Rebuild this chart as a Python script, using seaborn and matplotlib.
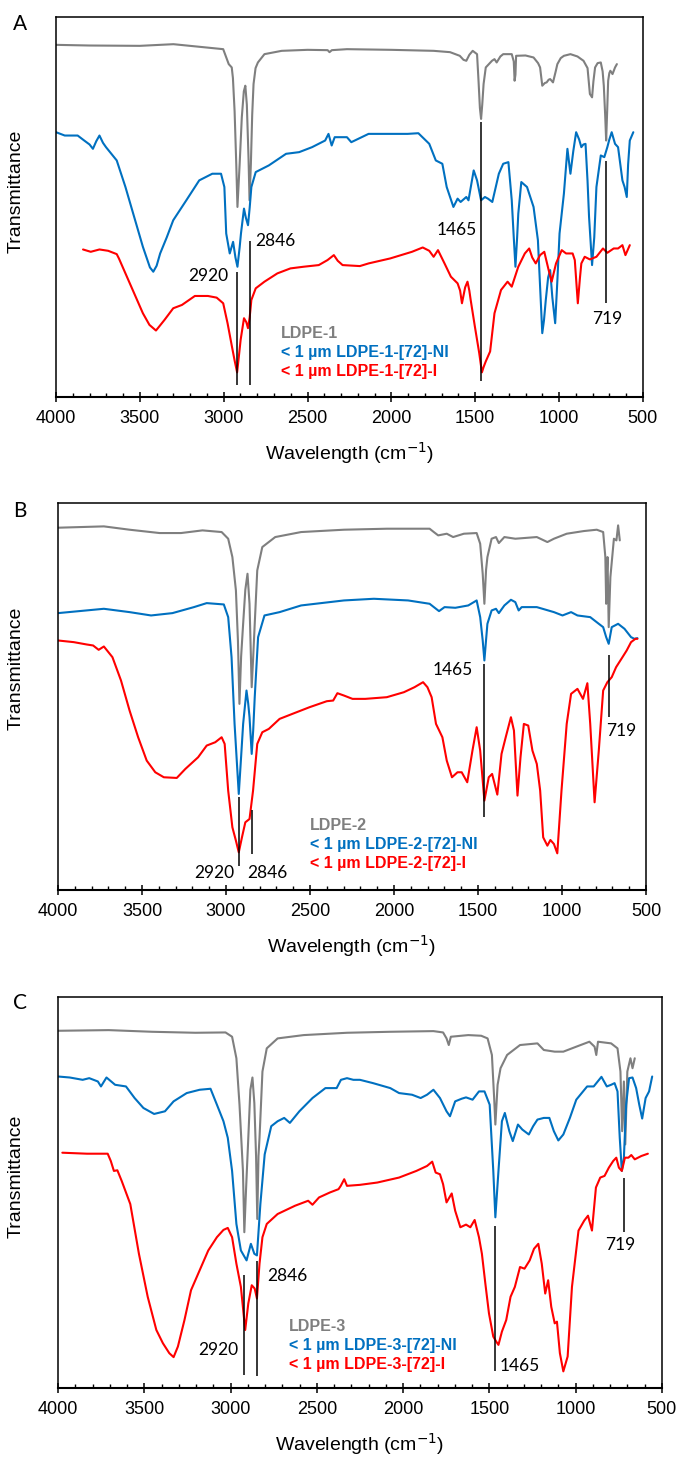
import pandas as pd
import matplotlib
matplotlib.use('Agg')
import matplotlib.pyplot as plt
from matplotlib.ticker import MultipleLocator
import seaborn as sns

# ---- spectra: (wavenumber, relative transmittance) ----
a_grey = [(4000, 1060), (3800, 1058), (3500, 1057), (3300, 1062), (3003, 1047), (2970, 1002), (2952, 992),
          (2945, 960), (2935, 860), (2925, 700), (2918, 572), (2905, 700), (2892, 842), (2880, 920), (2871, 937),
          (2862, 880), (2852, 720), (2846, 592), (2838, 700), (2830, 850), (2822, 942), (2810, 990), (2796, 1007),
          (2757, 1032), (2654, 1042), (2500, 1045), (2380, 1044), (2369, 1038), (2355, 1044), (2265, 1047),
          (2000, 1045), (1748, 1042), (1650, 1038), (1592, 1027), (1570, 1015), (1553, 1012), (1535, 1030),
          (1515, 1042), (1489, 1032), (1480, 950), (1472, 870), (1465, 837), (1458, 880), (1450, 942), (1437, 992),
          (1400, 1012), (1385, 1017), (1372, 1007), (1350, 1025), (1333, 1032), (1282, 1032), (1270, 1010),
          (1265, 952), (1260, 970), (1256, 1027), (1200, 1028), (1152, 1022), (1125, 1005), (1113, 992),
          (1100, 937), (1085, 945), (1074, 947), (1062, 955), (1053, 957), (1036, 947), (1020, 980), (1010, 1002),
          (990, 1020), (971, 1027), (932, 1032), (890, 1025), (854, 1012), (830, 990), (816, 912), (803, 902),
          (795, 950), (785, 992), (770, 1005), (751, 1007), (740, 980), (733, 937), (725, 850), (719, 772),
          (713, 860), (707, 952), (700, 975), (694, 982), (681, 972), (666, 992), (655, 1002)]
a_blue = [(4000, 797), (3948, 787), (3871, 787), (3832, 772), (3800, 760), (3780, 747), (3760, 770), (3741, 787),
          (3720, 765), (3702, 752), (3638, 712), (3586, 632), (3534, 542), (3482, 452), (3440, 390), (3420, 377),
          (3400, 395), (3379, 432), (3340, 480), (3301, 532), (3223, 592), (3146, 652), (3068, 672), (3016, 672),
          (2996, 632), (2985, 492), (2964, 432), (2944, 467), (2930, 420), (2918, 392), (2905, 450), (2897, 492),
          (2879, 567), (2868, 540), (2855, 517), (2845, 570), (2835, 632), (2809, 677), (2731, 697), (2628, 732),
          (2550, 737), (2473, 752), (2395, 772), (2375, 792), (2356, 757), (2338, 782), (2265, 782), (2239, 767),
          (2136, 792), (2007, 792), (1903, 792), (1839, 794), (1774, 762), (1735, 712), (1696, 702), (1670, 632),
          (1630, 572), (1605, 597), (1587, 587), (1553, 602), (1540, 592), (1509, 682), (1489, 652), (1465, 592),
          (1442, 602), (1424, 597), (1398, 587), (1359, 672), (1333, 702), (1302, 707), (1282, 592), (1270, 480),
          (1260, 392), (1250, 480), (1243, 552), (1225, 647), (1191, 632), (1152, 572), (1126, 472), (1110, 300),
          (1100, 192), (1090, 230), (1079, 292), (1065, 360), (1053, 382), (1040, 300), (1023, 222), (1010, 350),
          (997, 492), (971, 612), (950, 747), (932, 672), (915, 740), (898, 797), (880, 775), (867, 752),
          (855, 760), (842, 762), (830, 650), (821, 542), (803, 397), (790, 480), (777, 632), (751, 727),
          (730, 722), (712, 752), (700, 775), (686, 797), (666, 762), (648, 752), (622, 652), (609, 632),
          (596, 602), (588, 700), (578, 772), (557, 797)]
a_red = [(3839, 444), (3793, 437), (3741, 444), (3689, 440), (3638, 430), (3625, 417), (3586, 372), (3534, 312),
         (3482, 252), (3443, 217), (3404, 200), (3380, 215), (3353, 232), (3301, 267), (3249, 277), (3172, 304),
         (3094, 304), (3042, 299), (3003, 282), (2977, 222), (2951, 152), (2935, 110), (2920, 74), (2910, 120),
         (2899, 172), (2879, 237), (2865, 225), (2855, 207), (2845, 240), (2835, 292), (2809, 327), (2757, 347),
         (2680, 372), (2602, 387), (2524, 392), (2433, 397), (2381, 412), (2343, 427), (2320, 410), (2291, 397),
         (2188, 394), (2136, 402), (2007, 417), (1877, 437), (1813, 450), (1774, 440), (1748, 422), (1722, 442),
         (1683, 402), (1645, 362), (1605, 342), (1590, 320), (1579, 282), (1560, 330), (1546, 347), (1535, 320),
         (1527, 292), (1502, 212), (1476, 132), (1460, 74), (1450, 90), (1437, 107), (1411, 137), (1385, 252),
         (1346, 322), (1307, 347), (1282, 332), (1243, 392), (1204, 432), (1178, 447), (1160, 420), (1139, 402),
         (1113, 427), (1088, 437), (1062, 382), (1044, 347), (1018, 402), (984, 442), (958, 432), (919, 432),
         (906, 412), (888, 282), (875, 360), (867, 402), (847, 422), (816, 414), (777, 422), (738, 447),
         (712, 434), (674, 447), (648, 447), (622, 457), (604, 427), (578, 457)]

b_grey = [(4000, 1086), (3727, 1090), (3574, 1080), (3395, 1070), (3268, 1070), (3140, 1078), (3026, 1073),
          (2987, 1053), (2962, 998), (2941, 898), (2929, 748), (2920, 558), (2910, 700), (2898, 798), (2885, 900),
          (2872, 948), (2860, 858), (2847, 608), (2838, 700), (2829, 798), (2814, 958), (2784, 1028), (2707, 1058),
          (2553, 1073), (2298, 1080), (2043, 1083), (1788, 1083), (1763, 1073), (1737, 1063), (1686, 1068),
          (1648, 1058), (1584, 1068), (1508, 1070), (1487, 1038), (1472, 948), (1462, 858), (1452, 960),
          (1444, 998), (1419, 1053), (1393, 1058), (1376, 1040), (1343, 1058), (1278, 1053), (1150, 1058),
          (1087, 1043), (1048, 1053), (972, 1068), (870, 1076), (793, 1080), (755, 1073), (742, 998), (737, 858),
          (732, 960), (729, 998), (722, 788), (712, 938), (691, 1053), (676, 1048), (666, 1093), (656, 1048)]
b_blue = [(4000, 830), (3727, 843), (3574, 833), (3446, 823), (3319, 830), (3191, 848), (3115, 860), (3013, 856),
          (2987, 818), (2967, 698), (2949, 498), (2935, 380), (2924, 288), (2910, 400), (2898, 498), (2878, 598),
          (2868, 560), (2860, 518), (2847, 408), (2838, 480), (2829, 578), (2809, 758), (2771, 823), (2681, 833),
          (2553, 853), (2298, 868), (2120, 873), (1916, 868), (1788, 858), (1750, 843), (1732, 836), (1699, 848),
          (1635, 846), (1558, 853), (1508, 868), (1487, 818), (1472, 748), (1462, 688), (1452, 750), (1444, 798),
          (1419, 838), (1393, 843), (1376, 830), (1343, 853), (1304, 870), (1278, 863), (1258, 838), (1240, 848),
          (1150, 848), (1048, 833), (997, 823), (946, 833), (908, 823), (832, 818), (781, 798), (755, 788),
          (737, 758), (722, 738), (704, 788), (666, 798), (628, 783), (589, 758), (569, 753), (551, 755)]
b_red = [(4000, 748), (3906, 743), (3829, 736), (3791, 733), (3758, 720), (3727, 730), (3676, 698), (3625, 628),
         (3574, 538), (3523, 458), (3472, 388), (3421, 353), (3370, 338), (3293, 336), (3242, 363), (3166, 398),
         (3115, 433), (3064, 443), (3026, 458), (3008, 438), (2987, 298), (2962, 188), (2941, 148), (2924, 113),
         (2905, 158), (2885, 203), (2860, 213), (2839, 298), (2814, 438), (2784, 473), (2745, 483), (2681, 513),
         (2605, 528), (2503, 548), (2400, 566), (2362, 568), (2337, 590), (2298, 583), (2247, 573), (2171, 573),
         (2043, 578), (1941, 593), (1878, 608), (1827, 623), (1801, 608), (1776, 578), (1750, 498), (1712, 458),
         (1686, 388), (1655, 338), (1622, 353), (1597, 353), (1564, 323), (1533, 418), (1508, 488), (1487, 418),
         (1462, 268), (1436, 338), (1416, 348), (1385, 286), (1360, 408), (1335, 458), (1304, 518), (1286, 478),
         (1265, 283), (1247, 398), (1227, 498), (1201, 493), (1176, 418), (1150, 378), (1130, 298), (1112, 158),
         (1087, 133), (1069, 150), (1048, 138), (1028, 110), (1003, 298), (972, 498), (946, 588), (908, 603),
         (875, 573), (849, 620), (832, 498), (806, 263), (781, 418), (755, 598), (730, 623), (704, 638),
         (678, 668), (640, 698), (615, 718), (589, 743), (563, 753), (551, 753)]

c_grey = [(4000, 1078), (3706, 1080), (3455, 1075), (3204, 1072), (3029, 1073), (2991, 1060), (2966, 995),
          (2948, 855), (2928, 655), (2920, 470), (2910, 600), (2897, 755), (2885, 900), (2873, 937), (2862, 860),
          (2852, 700), (2845, 510), (2838, 700), (2832, 755), (2815, 955), (2790, 1025), (2727, 1055), (2576, 1065),
          (2325, 1072), (2074, 1075), (1824, 1077), (1768, 1073), (1748, 1055), (1735, 1035), (1723, 1060),
          (1622, 1065), (1547, 1063), (1510, 1055), (1485, 1005), (1472, 875), (1465, 795), (1452, 915),
          (1435, 965), (1397, 1005), (1372, 1015), (1322, 1035), (1221, 1040), (1184, 1020), (1121, 1015),
          (1071, 1015), (996, 1030), (920, 1045), (890, 1030), (880, 1005), (870, 1045), (794, 1040), (757, 1025),
          (740, 955), (730, 775), (720, 925), (712, 735), (700, 955), (682, 995), (670, 965), (657, 995)]
c_blue = [(4000, 940), (3932, 937), (3857, 930), (3819, 935), (3769, 925), (3751, 910), (3719, 937), (3669, 915),
          (3606, 910), (3556, 875), (3505, 845), (3443, 827), (3380, 835), (3330, 865), (3254, 890), (3179, 900),
          (3116, 903), (3079, 855), (3041, 805), (3016, 755), (2991, 655), (2966, 495), (2940, 415), (2907, 385),
          (2882, 435), (2862, 405), (2847, 400), (2827, 555), (2802, 705), (2764, 790), (2727, 805), (2689, 815),
          (2656, 800), (2601, 835), (2525, 875), (2450, 905), (2385, 905), (2360, 930), (2325, 935), (2288, 930),
          (2250, 930), (2174, 920), (2074, 905), (2023, 890), (1948, 885), (1898, 875), (1861, 885), (1824, 900),
          (1786, 875), (1748, 835), (1728, 820), (1698, 865), (1660, 873), (1635, 877), (1597, 870), (1560, 895),
          (1528, 895), (1498, 855), (1477, 655), (1465, 515), (1447, 655), (1427, 805), (1410, 830), (1384, 775),
          (1364, 745), (1334, 795), (1309, 780), (1271, 765), (1246, 790), (1221, 810), (1184, 815), (1152, 815),
          (1126, 775), (1100, 747), (1071, 765), (1033, 815), (996, 870), (933, 910), (895, 910), (850, 939),
          (819, 910), (794, 915), (774, 920), (757, 895), (744, 755), (732, 655), (720, 695), (707, 855),
          (690, 935), (670, 937), (649, 905), (631, 855), (614, 813), (594, 875), (574, 895), (556, 940)]
c_red = [(3975, 710), (3832, 707), (3712, 707), (3694, 685), (3676, 655), (3656, 657), (3631, 625), (3581, 555),
         (3531, 405), (3480, 275), (3430, 175), (3392, 135), (3355, 105), (3330, 93), (3305, 125), (3267, 205),
         (3229, 295), (3179, 355), (3129, 415), (3079, 455), (3041, 477), (3016, 483), (2991, 455), (2966, 375),
         (2940, 305), (2915, 175), (2897, 255), (2877, 310), (2860, 300), (2847, 270), (2832, 375), (2815, 455),
         (2790, 495), (2727, 525), (2626, 550), (2550, 565), (2525, 553), (2487, 575), (2424, 590), (2374, 600),
         (2361, 610), (2341, 630), (2325, 610), (2250, 613), (2149, 620), (2023, 635), (1923, 655), (1861, 670),
         (1831, 683), (1811, 650), (1786, 645), (1768, 615), (1748, 560), (1718, 587), (1698, 535), (1668, 485),
         (1635, 493), (1610, 485), (1585, 507), (1560, 455), (1543, 405), (1523, 315), (1502, 225), (1477, 155),
         (1460, 140), (1447, 130), (1427, 170), (1402, 205), (1377, 275), (1352, 305), (1322, 365), (1296, 360),
         (1266, 385), (1241, 420), (1216, 435), (1196, 375), (1176, 285), (1159, 325), (1141, 245), (1121, 195),
         (1108, 200), (1091, 105), (1071, 50), (1046, 95), (1021, 305), (983, 475), (950, 505), (928, 520),
         (905, 475), (882, 605), (857, 635), (832, 640), (807, 665), (782, 685), (764, 695), (749, 665),
         (732, 655), (714, 695), (694, 695), (677, 703), (657, 690), (619, 700), (581, 707)]

# peak markers: (wavenumber, line top, line bottom, label x, label y)
peak_labels = ['2920', '2846', '1465', '719']
a_peaks = [(2920, 377, 37, 3094, 364), (2846, 470, 37, 2693, 470), (1465, 827, 47, 1611, 502), (719, 710, 282, 712, 234)]
b_peaks = [(2920, 280, 73, 3069, 50), (2846, 240, 108, 2753, 50), (1465, 678, 220, 1648, 661), (719, 705, 518, 645, 478)]
c_peaks = [(2920, 340, 40, 3071, 115), (2846, 382, 37, 2672, 337), (1465, 490, 50, 1321, 67), (719, 635, 470, 739, 430)]

panels = [
    dict(letter='A', grey=a_grey, blue=a_blue, red=a_red, peaks=a_peaks, n=1, ymax=1144,
         rect=[0.0824, 0.7283, 0.863, 0.2601], leg=(0.383, 0.187), ylab=(-0.053, 0.542), ly=0.9836),
    dict(letter='B', grey=b_grey, blue=b_blue, red=b_red, peaks=b_peaks, n=2, ymax=1160,
         rect=[0.0853, 0.3908, 0.8647, 0.2649], leg=(0.429, 0.185), ylab=(-0.056, 0.574), ly=0.6502),
    dict(letter='C', grey=c_grey, blue=c_blue, red=c_red, peaks=c_peaks, n=3, ymax=1180,
         rect=[0.0853, 0.0500, 0.888, 0.2676], leg=(0.382, 0.177), ylab=(-0.055, 0.542), ly=0.3135),
]

colors = ['#7f7f7f', '#0070c0', '#ff0000']

sns.set_style('white')
plt.rcParams['font.family'] = ['Liberation Sans', 'DejaVu Sans']
plt.rcParams['text.color'] = 'black'
plt.rcParams['axes.labelcolor'] = 'black'
plt.rcParams['xtick.color'] = 'black'

fig = plt.figure(figsize=(6.8, 14.61), dpi=100)

for p in panels:
    ax = fig.add_axes(p['rect'])
    names = [f"LDPE-{p['n']}", f"< 1 µm LDPE-{p['n']}-[72]-NI", f"< 1 µm LDPE-{p['n']}-[72]-I"]
    frames = []
    for name, series in zip(names, [p['grey'], p['blue'], p['red']]):
        d = pd.DataFrame(series, columns=['wn', 'T'])
        d['sample'] = name
        frames.append(d)
    df = pd.concat(frames, ignore_index=True)
    sns.lineplot(data=df, x='wn', y='T', hue='sample', palette=colors, sort=False,
                 estimator=None, linewidth=1.5, ax=ax)

    # peak lines and labels
    for lab, (wn, top, bot, tx, ty) in zip(peak_labels, p['peaks']):
        ax.vlines(wn, bot, top, color='black', linewidth=1.1)
        ax.text(tx, ty, lab, ha='center', va='center', fontsize=12.5, family=['Lato', 'DejaVu Sans'])

    ax.set_xlim(4000, 500)
    ax.set_ylim(0, p['ymax'])
    ax.set_yticks([])
    ax.xaxis.set_major_locator(MultipleLocator(500))
    ax.xaxis.set_minor_locator(MultipleLocator(100))
    ax.tick_params(axis='x', which='major', direction='inout', length=7, width=1.1,
                   labelsize=13, pad=6, bottom=True, colors='black')
    ax.tick_params(axis='x', which='minor', direction='in', length=3, width=1, bottom=True, colors='black')
    for s in ax.spines.values():
        s.set_color('black')
        s.set_linewidth(1.1)
    ax.spines['bottom'].set_linewidth(1.5)

    ax.set_xlabel('Wavelength (cm$^{-1}$)', fontsize=14, labelpad=9)
    ax.set_ylabel('Transmittance', fontsize=14)
    ax.yaxis.set_label_coords(*p['ylab'])

    leg = ax.legend(loc='upper left', bbox_to_anchor=p['leg'], frameon=False, handlelength=0,
                    handletextpad=0, borderpad=0, borderaxespad=0, labelspacing=0.25,
                    prop=dict(weight='bold', size=11.5))
    for txt, c in zip(leg.get_texts(), colors):
        txt.set_color(c)
    for h in leg.legend_handles:
        h.set_visible(False)

    fig.text(0.029, p['ly'], p['letter'], fontsize=15, ha='center', va='center',
             family=['Lato', 'DejaVu Sans'])

fig.savefig('out.png', dpi=100)
